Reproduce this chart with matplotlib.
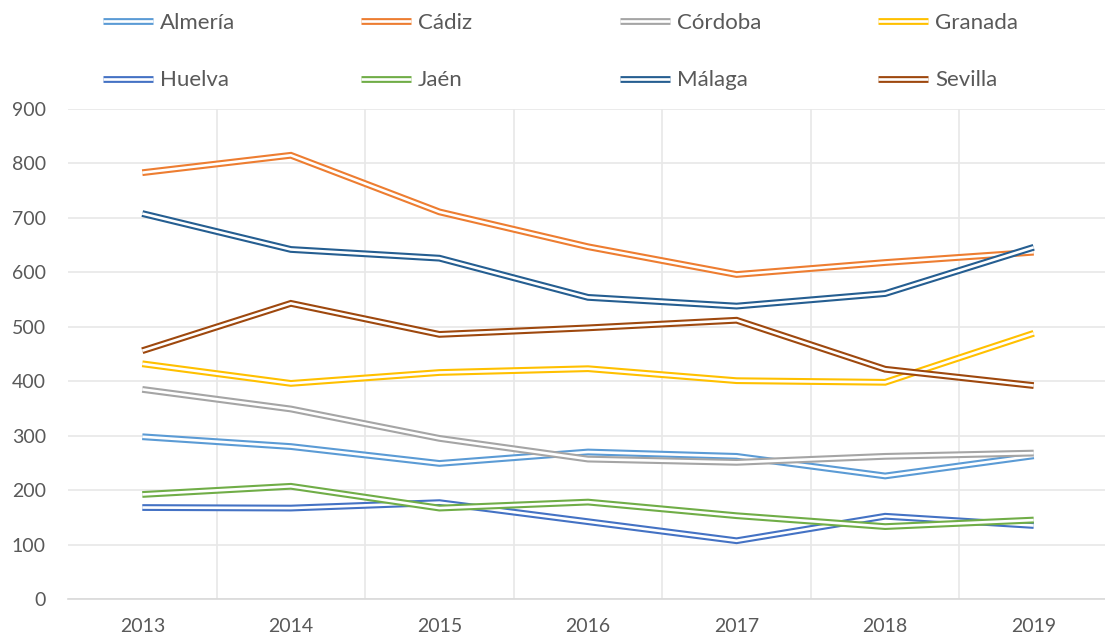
import numpy as np
import matplotlib
matplotlib.use('Agg')
import matplotlib.pyplot as plt
import matplotlib.patheffects as pe

years = [2013, 2014, 2015, 2016, 2017, 2018, 2019]

provinces = ['Almería', 'Cádiz', 'Córdoba', 'Granada',
             'Huelva', 'Jaén', 'Málaga', 'Sevilla']

almeria = [298, 280, 249, 270, 262, 226, 263]
cadiz   = [783, 815, 711, 647, 596, 618, 637]
cordoba = [385, 349, 295, 257, 251, 262, 268]
granada = [432, 396, 416, 423, 401, 398, 488]
huelva  = [168, 167, 177, 142, 107, 152, 135]
jaen    = [192, 207, 167, 178, 153, 133, 145]
malaga  = [708, 642, 626, 554, 538, 561, 646]
sevilla = [456, 543, 486, 498, 512, 422, 392]

series = [almeria, cadiz, cordoba, granada, huelva, jaen, malaga, sevilla]
colors = ['#5B9BD5', '#ED7D31', '#A5A5A5', '#FFC000',
          '#4472C4', '#70AD47', '#255E91', '#9E480E']

yticks = [0, 100, 200, 300, 400, 500, 600, 700, 800, 900]

txt = '#595959'
plt.rcParams['font.family'] = ['Lato', 'DejaVu Sans']
plt.rcParams['font.size'] = 14

fig = plt.figure(figsize=(11.05, 6.44), dpi=100)
ax = fig.add_axes([68 / 1105, 45 / 644, 1040 / 1105, 490 / 644])

# Excel "double" compound line: coloured stroke with a white core
def double(color):
    return [pe.Stroke(linewidth=4.9, foreground=color, capstyle='butt'),
            pe.Stroke(linewidth=1.9, foreground='white', capstyle='butt')]

handles = []
for name, vals, c in zip(provinces, series, colors):
    ln, = ax.plot(years, vals, color=c, lw=4.9, label=name,
                  solid_joinstyle='miter', solid_capstyle='butt',
                  path_effects=double(c))
    handles.append(ln)

ax.set_xlim(2012.5, 2019.5)
ax.set_ylim(0, 900)
ax.set_yticks(yticks)
ax.set_xticks(years)
ax.set_xticks([y + 0.5 for y in years[:-1]], minor=True)

ax.grid(axis='y', which='major', color='#E8E8E8', lw=1.2)
ax.grid(axis='x', which='minor', color='#E8E8E8', lw=1.2)
ax.set_axisbelow(True)

for s in ['top', 'right', 'left']:
    ax.spines[s].set_visible(False)
ax.spines['bottom'].set_color('#D9D9D9')
ax.spines['bottom'].set_linewidth(1.2)

ax.tick_params(axis='both', which='both', length=0, colors=txt, labelsize=14)
ax.tick_params(axis='y', pad=16)
ax.tick_params(axis='x', pad=14)

# legend: four columns, two rows, evenly spaced like Excel
col_x = [103, 361, 620, 878]
for i, x in enumerate(col_x):
    leg = fig.legend([handles[i], handles[i + 4]],
                     [provinces[i], provinces[i + 4]],
                     loc='upper left',
                     bbox_to_anchor=(x / 1105, 1 - 13 / 644),
                     frameon=False, ncol=1,
                     handlelength=2.25, handletextpad=0.32,
                     labelspacing=1.68, borderpad=0, borderaxespad=0,
                     fontsize=16, labelcolor=txt)

fig.savefig('out.png', dpi=100)
